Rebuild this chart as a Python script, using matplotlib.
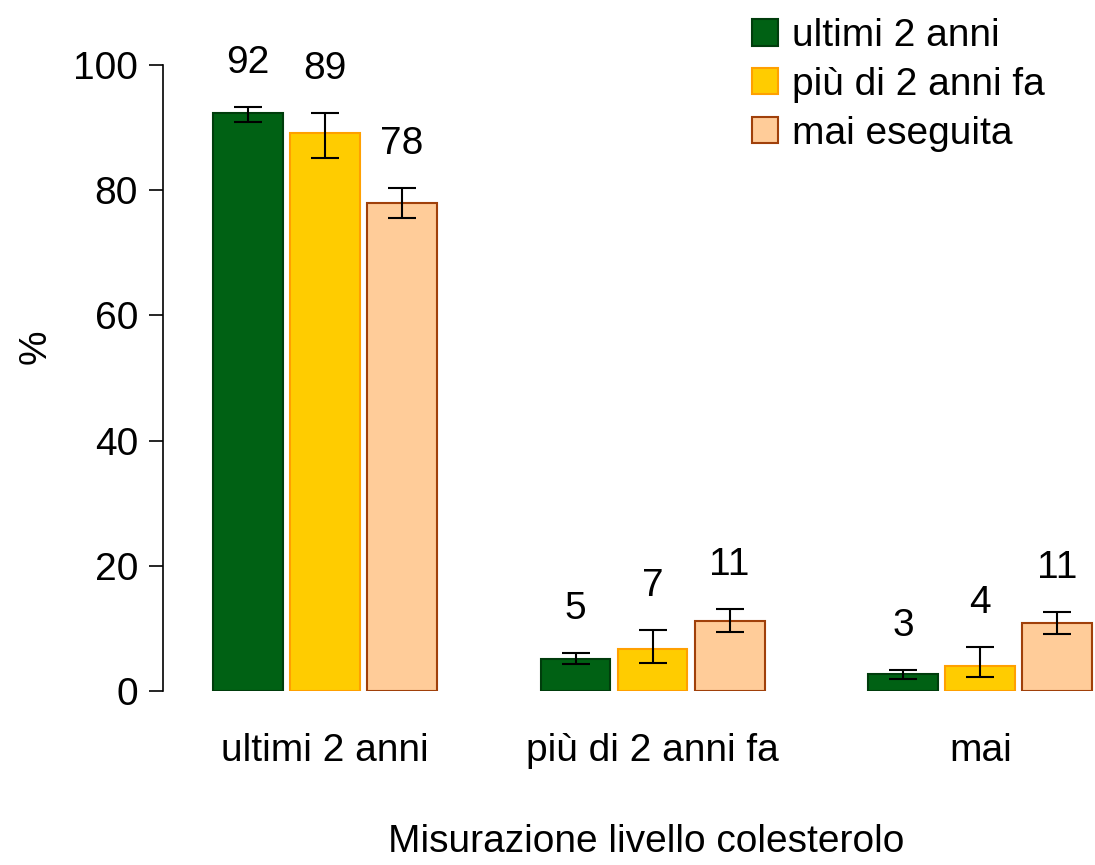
import numpy as np
import matplotlib.pyplot as plt
from matplotlib.patches import Patch

plt.rcParams['font.family'] = ['Liberation Sans', 'DejaVu Sans']

groups = ['ultimi 2 anni', 'più di 2 anni fa', 'mai']
series = ['ultimi 2 anni', 'più di 2 anni fa', 'mai eseguita']
values = [[92.3, 5.1, 2.7],
          [89.2, 6.7, 4.0],
          [78.0, 11.2, 10.9]]
err_low = [[90.9, 4.3, 1.9],
           [85.1, 4.5, 2.2],
           [75.6, 9.4, 9.1]]
err_high = [[93.3, 6.1, 3.4],
            [92.3, 9.7, 7.0],
            [80.4, 13.1, 12.6]]
labels = [['92', '5', '3'],
          ['89', '7', '4'],
          ['78', '11', '11']]

fills = ['#006114', '#FFCC00', '#FFCC99']
edges = ['#003d0c', '#FFA000', '#A0400A']
fs = 28

fig = plt.figure(figsize=(10.95, 8.65), dpi=100)
ax = fig.add_axes([163 / 1095, 1 - 691 / 865, 1 - 163 / 1095, 0.796])

x = np.arange(len(groups))
w = 0.213
step = 0.235
for i in range(3):
    xi = x + (i - 1) * step
    v = np.array(values[i])
    lo = v - np.array(err_low[i])
    hi = np.array(err_high[i]) - v
    ax.bar(xi, v, w, color=fills[i], edgecolor=edges[i], linewidth=1.5)
    ax.errorbar(xi, v, yerr=[lo, hi], fmt='none', ecolor='black',
                elinewidth=1.5, capsize=10, capthick=1.5)
    for xx, top, lab in zip(xi, err_high[i], labels[i]):
        ax.text(xx, top + 7, lab, ha='center', va='center', fontsize=fs)

ax.set_xlim(-0.494, 2.35)
ax.set_ylim(0, 110)
ax.set_yticks([0, 20, 40, 60, 80, 100])
ax.set_xticks(x)
ax.set_xticklabels(groups, fontsize=fs)
ax.tick_params(axis='y', labelsize=fs, length=10, width=1.2, pad=8)
ax.tick_params(axis='x', length=0, pad=30)
for s in ['top', 'right', 'bottom']:
    ax.spines[s].set_visible(False)
ax.spines['left'].set_bounds(0, 100)
ax.spines['left'].set_linewidth(1.2)

ax.set_ylabel('%', fontsize=fs, labelpad=14)
fig.text(646 / 1095, 1 - 842 / 865, 'Misurazione livello colesterolo',
         ha='center', va='center', fontsize=fs)

handles = [Patch(facecolor=fills[i], edgecolor=edges[i], linewidth=1.5) for i in range(3)]
fig.legend(handles, series, loc='upper left', bbox_to_anchor=(752 / 1095, 1 - 18 / 865),
           frameon=False, fontsize=fs, handlelength=0.67, handleheight=0.67,
           handletextpad=0.36, labelspacing=0.33, borderaxespad=0, borderpad=0)

fig.savefig('out.png', dpi=100)
